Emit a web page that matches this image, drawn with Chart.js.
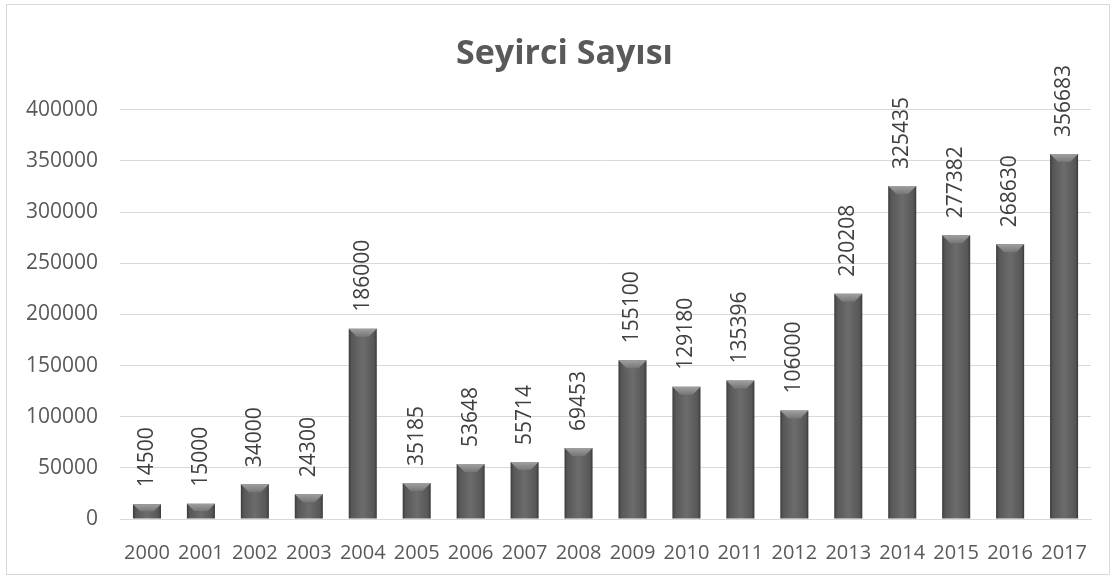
<!DOCTYPE html>
<html>
<head>
<meta charset="utf-8">
<script src="https://cdn.jsdelivr.net/npm/chart.js@4/dist/chart.umd.min.js"></script>
<style>
  html, body { margin: 0; padding: 0; background: #fff; }
  #wrap { position: absolute; left: 6px; top: 4px; width: 1102px; height: 569px; border: 1px solid #d9d9d9; }
  canvas { display: block; }
</style>
</head>
<body>
<div id="wrap"><canvas id="chart" width="1102" height="569"></canvas></div>
<script>
  // chart data
  var YEARS = ['2000', '2001', '2002', '2003', '2004', '2005', '2006', '2007', '2008',
    '2009', '2010', '2011', '2012', '2013', '2014', '2015', '2016', '2017'];
  var VIEWERS = [14500, 15000, 34000, 24300, 186000, 35185, 53648, 55714, 69453,
    155100, 129180, 135396, 106000, 220208, 325435, 277382, 268630, 356683];
  var TITLE = 'Seyirci Sayısı';

  var TEXT = '#595959';
  var FONT = "'Open Sans', sans-serif";

  function barGradient(ctx) {
    var chart = ctx.chart;
    var xs = chart.scales.x;
    if (!xs || !chart.chartArea) return '#606060';
    var cx = xs.getPixelForValue(ctx.dataIndex);
    var w = xs.width / YEARS.length * 0.52;
    var g = chart.ctx.createLinearGradient(cx - w / 2, 0, cx + w / 2, 0);
    g.addColorStop(0, '#3a3a3a');
    g.addColorStop(0.1, '#575757');
    g.addColorStop(0.5, '#6c6c6c');
    g.addColorStop(0.9, '#575757');
    g.addColorStop(1, '#3a3a3a');
    return g;
  }

  // light bevel on top of each bar + rotated value labels
  var bevelAndLabels = {
    id: 'bevelAndLabels',
    afterDatasetsDraw: function (chart) {
      var c = chart.ctx;
      var meta = chart.getDatasetMeta(0);
      meta.data.forEach(function (bar, i) {
        var l = bar.x - bar.width / 2, r = bar.x + bar.width / 2, t = bar.y;
        var b = Math.min(8, (bar.base - bar.y) / 2);
        var g = c.createLinearGradient(0, t, 0, t + b);
        g.addColorStop(0, '#a0a0a0');
        g.addColorStop(1, '#767676');
        c.save();
        c.fillStyle = g;
        c.beginPath();
        c.moveTo(l, t);
        c.lineTo(r, t);
        c.lineTo(r - b, t + b);
        c.lineTo(l + b, t + b);
        c.closePath();
        c.fill();
        c.restore();

        c.save();
        c.translate(bar.x, bar.y - 17);
        c.rotate(-Math.PI / 2);
        c.fillStyle = '#404040';
        c.font = '21px ' + FONT;
        c.textAlign = 'left';
        c.textBaseline = 'middle';
        c.fillText(String(VIEWERS[i]), 0, 0);
        c.restore();
      });
    }
  };

  Chart.defaults.font.family = FONT;
  Chart.defaults.color = TEXT;

  new Chart(document.getElementById('chart').getContext('2d'), {
    type: 'bar',
    data: {
      labels: YEARS,
      datasets: [{
        data: VIEWERS,
        backgroundColor: barGradient,
        borderWidth: 0,
        barPercentage: 0.52,
        categoryPercentage: 1
      }]
    },
    options: {
      responsive: false,
      animation: false,
      layout: { padding: { left: 15, right: 2, top: 0, bottom: 0 } },
      plugins: {
        legend: { display: false },
        tooltip: { enabled: false },
        title: {
          display: true,
          text: TITLE,
          color: TEXT,
          font: { size: 34, weight: 'bold', family: FONT, lineHeight: 1.2 },
          padding: { top: 29, bottom: 35 }
        }
      },
      scales: {
        x: {
          afterFit: function (s) { s.height = 55; },
          grid: { display: false, drawTicks: false },
          border: { display: true, color: '#d9d9d9' },
          ticks: { color: TEXT, font: { size: 20 }, padding: 22, maxRotation: 0, autoSkip: false }
        },
        y: {
          min: 0,
          max: 400000,
          afterFit: function (s) { s.width = 98; },
          grid: { color: '#d9d9d9', drawTicks: false },
          border: { display: false },
          ticks: {
            stepSize: 50000, color: TEXT, font: { size: 21 }, padding: 22,
            callback: function (v) { return String(v); }
          }
        }
      }
    },
    plugins: [bevelAndLabels]
  });
</script>
</body>
</html>
